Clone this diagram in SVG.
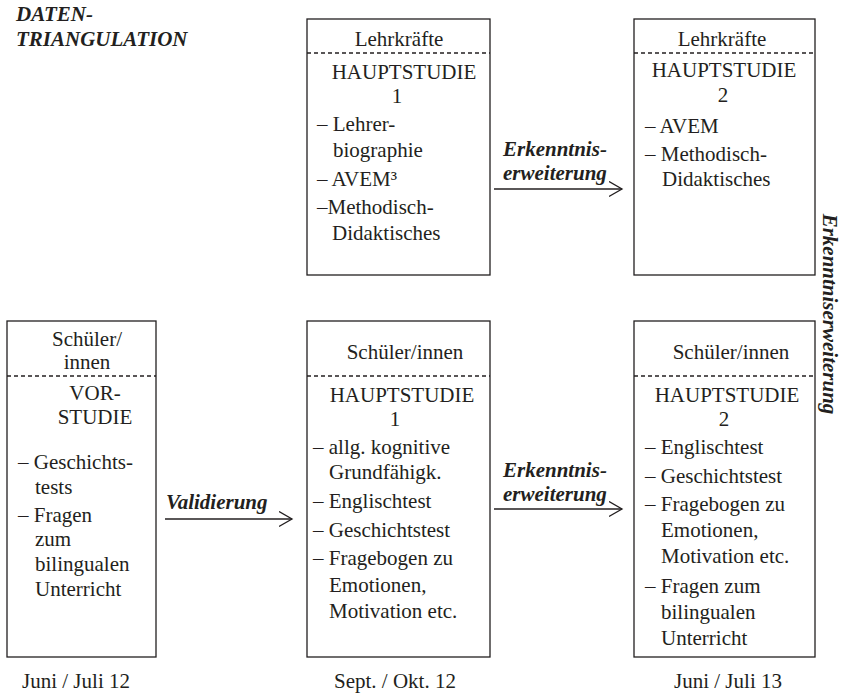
<svg xmlns="http://www.w3.org/2000/svg" width="843" height="693" viewBox="0 0 843 693">
<style>
.box{fill:none;stroke:#231f20;stroke-width:1.3}
.dash{stroke:#231f20;stroke-width:1.6;stroke-dasharray:4 3}
.t{font-family:"Liberation Serif","Times New Roman",serif;font-size:21px;fill:#231f20}
.c{text-anchor:middle}
.bi{font-weight:bold;font-style:italic}
.ln{stroke:#231f20;stroke-width:1.3;fill:none}
</style>
<defs>
<marker id="open" markerUnits="userSpaceOnUse" markerWidth="16" markerHeight="18" refX="13" refY="8" orient="auto">
<path d="M0,0.5 L13,8 L0,15.5" fill="none" stroke="#231f20" stroke-width="1.3"/>
</marker>
</defs>
<rect width="843" height="693" fill="#fff"/>

<g id="title">
<text class="t bi" x="16" y="21" font-size="20.5">DATEN-</text>
<text class="t bi" x="16" y="46" font-size="20.5">TRIANGULATION</text>
</g>

<g id="lehr-h1">
<rect class="box" x="307" y="19" width="183" height="256"/>
<line class="dash" x1="307" y1="53" x2="490" y2="53"/>
<text class="t c" x="399" y="46">Lehrkräfte</text>
<text class="t c" x="404" y="79">HAUPTSTUDIE</text>
<text class="t c" x="397" y="103">1</text>
<text class="t" x="317" y="131">– Lehrer-</text>
<text class="t" x="333" y="157">biographie</text>
<text class="t" x="317" y="186">– AVEM³</text>
<text class="t" x="317" y="214">–Methodisch-</text>
<text class="t" x="332" y="240">Didaktisches</text>
</g>

<g id="lehr-h2">
<rect class="box" x="634" y="19" width="181" height="256"/>
<line class="dash" x1="634" y1="53" x2="815" y2="53"/>
<text class="t c" x="722" y="46">Lehrkräfte</text>
<text class="t c" x="724" y="77">HAUPTSTUDIE</text>
<text class="t c" x="723" y="102">2</text>
<text class="t" x="645" y="133">– AVEM</text>
<text class="t" x="645" y="161">– Methodisch-</text>
<text class="t" x="662" y="186">Didaktisches</text>
</g>

<g id="schueler-vor">
<rect class="box" x="7" y="321" width="149" height="336"/>
<line class="dash" x1="7" y1="376" x2="156" y2="376"/>
<text class="t c" x="87" y="346">Schüler/</text>
<text class="t c" x="87" y="369">innen</text>
<text class="t c" x="95" y="400">VOR-</text>
<text class="t c" x="95" y="424">STUDIE</text>
<text class="t" x="18" y="469">– Geschichts-</text>
<text class="t" x="35" y="494">tests</text>
<text class="t" x="18" y="522">– Fragen</text>
<text class="t" x="35" y="546">zum</text>
<text class="t" x="35" y="571">bilingualen</text>
<text class="t" x="35" y="596">Unterricht</text>
</g>

<g id="schueler-h1">
<rect class="box" x="307" y="321" width="183" height="336"/>
<line class="dash" x1="307" y1="376" x2="490" y2="376"/>
<text class="t c" x="405" y="359">Schüler/innen</text>
<text class="t c" x="402" y="402">HAUPTSTUDIE</text>
<text class="t c" x="395" y="426">1</text>
<text class="t" x="313" y="454">– allg. kognitive</text>
<text class="t" x="329" y="479">Grundfähigk.</text>
<text class="t" x="313" y="508">– Englischtest</text>
<text class="t" x="313" y="537">– Geschichtstest</text>
<text class="t" x="313" y="565">– Fragebogen zu</text>
<text class="t" x="329" y="592">Emotionen,</text>
<text class="t" x="329" y="618">Motivation etc.</text>
</g>

<g id="schueler-h2">
<rect class="box" x="634" y="321" width="181" height="336"/>
<line class="dash" x1="634" y1="376" x2="815" y2="376"/>
<text class="t c" x="731" y="359">Schüler/innen</text>
<text class="t c" x="727" y="402">HAUPTSTUDIE</text>
<text class="t c" x="724" y="426">2</text>
<text class="t" x="645" y="454">– Englischtest</text>
<text class="t" x="645" y="483">– Geschichtstest</text>
<text class="t" x="645" y="511">– Fragebogen zu</text>
<text class="t" x="661" y="537">Emotionen,</text>
<text class="t" x="661" y="563">Motivation etc.</text>
<text class="t" x="645" y="593">– Fragen zum</text>
<text class="t" x="661" y="619">bilingualen</text>
<text class="t" x="661" y="645">Unterricht</text>
</g>

<g id="connectors">
<line class="ln" x1="494" y1="189" x2="622" y2="189" marker-end="url(#open)"/>
<text class="t bi" x="503" y="156">Erkenntnis-</text>
<text class="t bi" x="503" y="180">erweiterung</text>
<line class="ln" x1="494" y1="509" x2="622" y2="509" marker-end="url(#open)"/>
<text class="t bi" x="503" y="477">Erkenntnis-</text>
<text class="t bi" x="503" y="501">erweiterung</text>
<line class="ln" x1="165" y1="519" x2="292" y2="519" marker-end="url(#open)"/>
<text class="t bi" x="166" y="509">Validierung</text>
<text class="t bi c" font-size="19" transform="translate(823,314) rotate(90)">Erkenntniserweiterung</text>
</g>

<g id="dates">
<text class="t c" x="76" y="688">Juni / Juli 12</text>
<text class="t c" x="395" y="688">Sept. / Okt. 12</text>
<text class="t c" x="728" y="688">Juni / Juli 13</text>
</g>
</svg>
